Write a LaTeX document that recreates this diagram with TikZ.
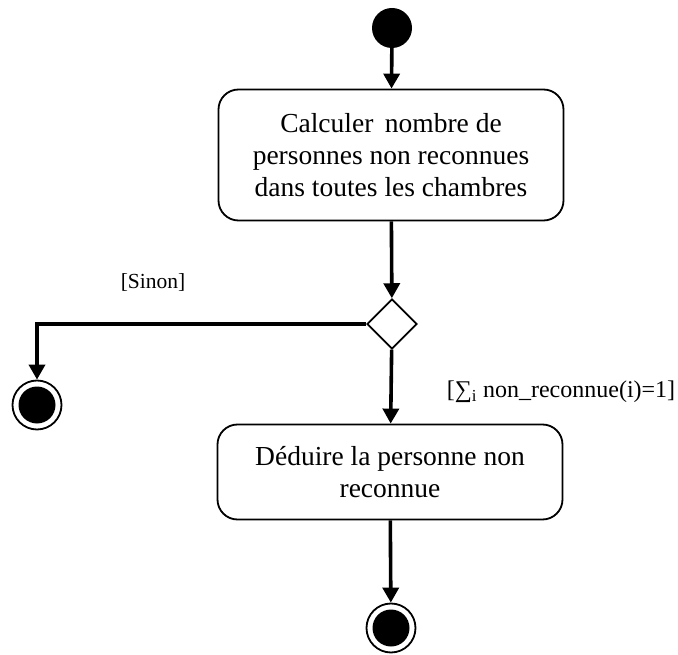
\documentclass[tikz,border=0pt]{standalone}
\usepackage{fontspec}
\setmainfont{Liberation Serif}
\usetikzlibrary{arrows.meta,shapes.geometric}

\begin{document}
\begin{tikzpicture}[
    x=1pt, y=-1pt,
    font=\fontsize{27.5}{32}\selectfont,
    flow/.style={-{Triangle[length=15pt,width=16pt]}, line width=3.6pt},
    activ/.style={draw, line width=1.8pt, rounded corners=20pt, minimum width=345pt, align=center, inner sep=0pt},
    choice/.style={draw, diamond, line width=1.8pt, minimum width=50pt, minimum height=50pt, inner sep=0pt, fill=white},
    startnode/.style={circle, fill=black, minimum size=40pt, inner sep=0pt},
    endnode/.style={circle, draw, line width=1.8pt, minimum size=49pt, inner sep=0pt,
        path picture={\fill (path picture bounding box.center) circle (18.5pt);}},
    guard/.style={font=\fontsize{21.5}{25}\selectfont}
]
\useasboundingbox (0,0) rectangle (678,655);

\node[startnode] (start) at (392,28) {};
\node[activ, minimum height=131pt] (calc) at (391,155) {Calculer\, nombre de\\personnes non reconnues\\dans toutes les chambres};
\node[choice] (test) at (392,324) {};
\node[activ, minimum height=95pt] (deduire) at (390,472) {Déduire la personne non\\reconnue};
\node[endnode] (finA) at (37,405) {};
\node[endnode] (finB) at (391,628) {};

\node[guard] (sinon) at (153,282) {[Sinon]};
\node[guard, font=\fontsize{24}{28}\selectfont] (unique) at (561,392) {[∑\textsubscript{i} non\_reconnue(i)=1]};

\draw[flow] (start) -- (calc);
\draw[flow] (calc) -- (test);
\draw[flow] (test) -- (deduire);
\draw[flow] (test.west) -| (finA);
\draw[flow] (deduire) -- (finB);
\end{tikzpicture}
\end{document}
